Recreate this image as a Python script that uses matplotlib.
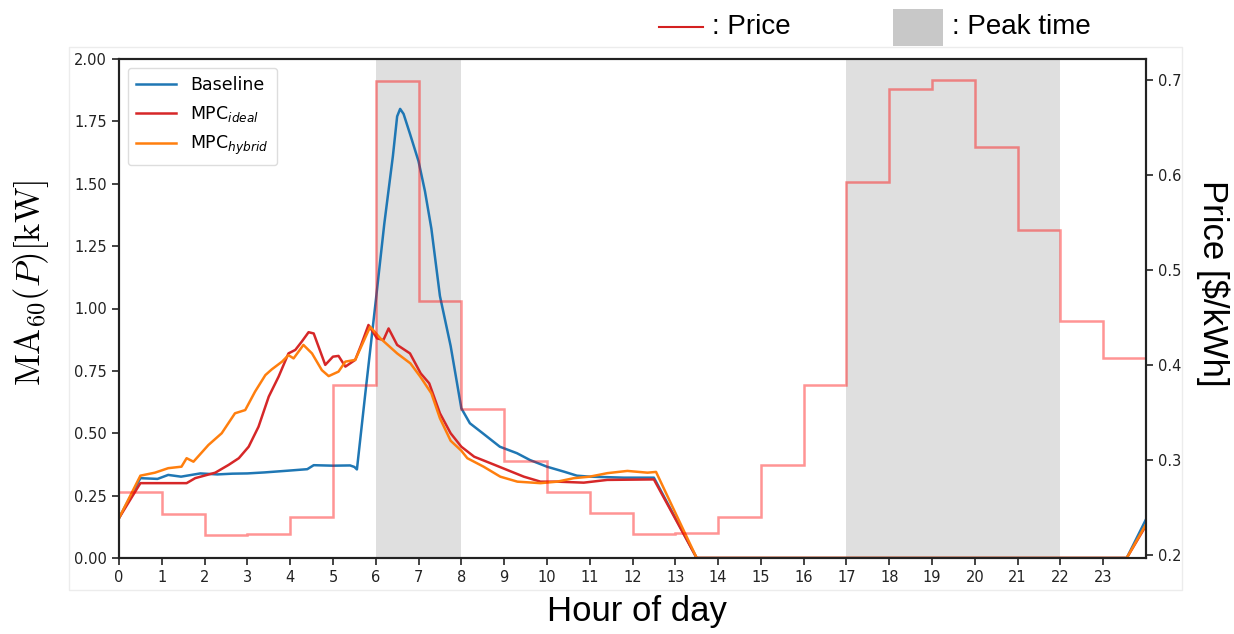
import matplotlib
matplotlib.use("Agg")
import matplotlib.pyplot as plt
import numpy as np
from matplotlib.lines import Line2D
from matplotlib.patches import Rectangle

# hourly tariff [$/kWh], one value per hour 0..23
price = [0.266, 0.243, 0.221, 0.222, 0.240, 0.379, 0.699, 0.467, 0.353, 0.299,
         0.266, 0.244, 0.222, 0.223, 0.240, 0.294, 0.379, 0.592, 0.690, 0.700,
         0.629, 0.542, 0.446, 0.407]
peak_periods = [(6, 8), (17, 22)]

# 60-min moving average of power [kW]
base_h = [0, 0.5, 0.9, 1.15, 1.45, 1.9, 2.3, 2.65, 3.0, 3.4, 3.95, 4.4, 4.55, 5.0,
          5.4, 5.5, 5.56, 5.75, 6.0, 6.2, 6.4, 6.5, 6.57, 6.65, 6.8, 7.0, 7.15, 7.3,
          7.5, 7.75, 8.0, 8.2, 8.5, 8.9, 9.3, 9.6, 10.0, 10.4, 10.7, 11.0, 11.8,
          12.5, 13.5, 23.55, 24]
base_kw = [0.16, 0.32, 0.317, 0.333, 0.326, 0.339, 0.335, 0.338, 0.339, 0.343,
           0.35, 0.356, 0.372, 0.37, 0.371, 0.365, 0.355, 0.65, 1.03, 1.34, 1.61,
           1.77, 1.80, 1.78, 1.70, 1.59, 1.47, 1.32, 1.05, 0.85, 0.60, 0.54, 0.50,
           0.446, 0.42, 0.393, 0.366, 0.346, 0.33, 0.326, 0.322, 0.322, 0.0, 0.0,
           0.155]

ideal_h = [0, 0.5, 1.58, 1.78, 2.25, 2.56, 2.8, 3.03, 3.26, 3.5, 3.73, 3.96, 4.12,
           4.27, 4.43, 4.55, 4.7, 4.82, 5.0, 5.13, 5.29, 5.52, 5.65, 5.83, 6.03,
           6.18, 6.3, 6.5, 6.8, 7.05, 7.25, 7.5, 7.75, 8.0, 8.3, 8.68, 9.07, 9.46,
           9.85, 10.24, 10.86, 11.41, 12.5, 13.5, 23.55, 24]
ideal_kw = [0.16, 0.30, 0.30, 0.32, 0.342, 0.373, 0.40, 0.446, 0.526, 0.647, 0.727,
            0.82, 0.834, 0.867, 0.905, 0.90, 0.83, 0.774, 0.807, 0.81, 0.767, 0.794,
            0.85, 0.934, 0.88, 0.874, 0.92, 0.854, 0.82, 0.74, 0.70, 0.58, 0.50,
            0.446, 0.406, 0.38, 0.353, 0.326, 0.306, 0.306, 0.302, 0.313, 0.315,
            0.0, 0.0, 0.13]

hybrid_h = [0, 0.5, 0.84, 1.15, 1.46, 1.58, 1.74, 2.09, 2.4, 2.71, 2.95, 3.18, 3.42,
            3.57, 3.81, 3.96, 4.08, 4.31, 4.51, 4.74, 4.9, 5.13, 5.29, 5.52, 5.87,
            6.11, 6.5, 6.81, 7.04, 7.3, 7.5, 7.75, 8.0, 8.14, 8.52, 8.91, 9.31, 9.85,
            10.24, 10.63, 11.0, 11.41, 11.88, 12.35, 12.55, 13.5, 23.55, 24]
hybrid_kw = [0.16, 0.33, 0.342, 0.36, 0.366, 0.40, 0.386, 0.453, 0.50, 0.58, 0.593,
             0.667, 0.733, 0.756, 0.787, 0.813, 0.80, 0.854, 0.82, 0.753, 0.729,
             0.747, 0.787, 0.794, 0.927, 0.88, 0.82, 0.78, 0.727, 0.66, 0.56, 0.47,
             0.43, 0.40, 0.366, 0.326, 0.306, 0.30, 0.306, 0.32, 0.326, 0.34, 0.349,
             0.342, 0.345, 0.0, 0.0, 0.135]

W, H = 1234, 634
fig = plt.figure(figsize=(W / 100, H / 100), dpi=100)
ax = fig.add_axes([119 / W, 1 - 558 / H, (1146 - 119) / W, (558 - 59) / H])

# thin frame around the plot panel
fig.patches.append(Rectangle((69 / W, 1 - 590 / H), (1182 - 69) / W, (590 - 47) / H,
                             transform=fig.transFigure, fill=False,
                             edgecolor='#ececec', linewidth=1))

for a, b in peak_periods:
    ax.axvspan(a, b, color='gray', alpha=0.25, lw=0, zorder=0)

ax.plot(base_h, base_kw, color='#1f77b4', lw=1.8, label='Baseline')
ax.plot(ideal_h, ideal_kw, color='#d62728', lw=1.8, label=r'MPC$_{ideal}$')
ax.plot(hybrid_h, hybrid_kw, color='#ff7f0e', lw=1.8, label=r'MPC$_{hybrid}$')

ax.set_xlim(0, 24)
ax.set_ylim(0, 2)
ax.set_xticks(range(24))
ax.set_yticks(np.arange(0, 2.01, 0.25))
ax.set_yticklabels([f'{v:.2f}' for v in np.arange(0, 2.01, 0.25)])
ax.tick_params(labelsize=10.5, length=5, width=1.2, colors='#222222')

ax2 = ax.twinx()
ax2.stairs(price, np.arange(25), baseline=None, color='red', alpha=0.42, lw=1.8)
ax2.set_ylim(0.1965, 0.722)
ax2.set_yticks([0.2, 0.3, 0.4, 0.5, 0.6, 0.7])
ax2.tick_params(labelsize=10.5, length=5, width=1.2, colors='#222222')

for s in list(ax.spines.values()) + list(ax2.spines.values()):
    s.set_linewidth(1.5)
    s.set_color('#222222')

leg = ax.legend(loc='upper left', fontsize=12.5, handlelength=2.3, borderpad=0.5,
                labelspacing=0.55, framealpha=1)
leg.get_frame().set_edgecolor('#dddddd')

# outer labels
lab_font = dict(family='Liberation Sans', fontsize=25, color='black')
fig.text(637 / W, 1 - 612 / H, 'Hour of day', ha='center', va='center', **lab_font)
fig.text(1213 / W, 1 - 283 / H, r'Price [\$/kWh]', rotation=270,
         ha='center', va='center', **lab_font)
fig.text(31 / W, 1 - 283 / H, r'$\mathrm{MA}_{60}(P)[\mathrm{kW}]$', rotation=90,
         ha='center', va='center', fontsize=25, math_fontfamily='cm')

# key above the plot
fig.add_artist(Line2D([659 / W, 703 / W], [1 - 27 / H, 1 - 27 / H],
                      transform=fig.transFigure, color='#d42020', lw=1.5))
fig.text(712 / W, 1 - 27 / H, ': Price', ha='left', va='center',
         family='Liberation Sans', fontsize=20)
fig.patches.append(Rectangle((893 / W, 1 - 46 / H), 50 / W, 37 / H,
                             transform=fig.transFigure, color='#c8c8c8', lw=0))
fig.text(952 / W, 1 - 27 / H, ': Peak time', ha='left', va='center',
         family='Liberation Sans', fontsize=20)

fig.savefig('out.png', dpi=100)
